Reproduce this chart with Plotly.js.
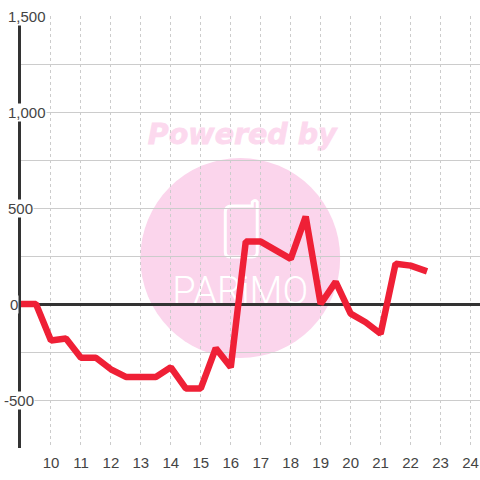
<!DOCTYPE html>
<html><head><meta charset="utf-8">
<script src="https://cdn.plot.ly/plotly-3.0.1.min.js"></script>
<style>html,body{margin:0;padding:0;background:#fff}
.js-line{stroke-linejoin:bevel !important}
</style></head>
<body><div id="c" style="width:480px;height:480px"></div>
<script>
const hours=[8.9,9.5,10,10.5,11,11.5,12,12.5,13,13.5,14,14.5,15,15.5,16,16.5,17,17.5,18,18.5,19,19.5,20,20.5,21,21.5,22,22.55];
const values=[0,0,-190,-180,-280,-280,-340,-380,-380,-380,-330,-440,-440,-230,-330,325,325,280,235,455,0,115,-50,-95,-155,210,200,170];
const xTicks=[10,11,12,13,14,15,16,17,18,19,20,21,22,23,24];
const yGrid=[-750,-500,-250,0,250,500,750,1000,1250,1500];
const yLabelVals=[1500,1000,500,0,-500];
const yLabelText=['1,500','1,000','500','0','-500'];
const yLabelLeft=[6,6,6,8,2];

const W=480,H=480,L=20.5,R=0,T=16,B=32;
const px=v=>(v-L)/(W-L-R), py=v=>1-(v-T)/(H-T-B);
const annotations=yLabelVals.map((v,i)=>({xref:'paper',yref:'y',x:px(yLabelLeft[i]),y:v,xanchor:'left',yanchor:'middle',
  text:yLabelText[i],showarrow:false,bgcolor:'#ffffff',borderpad:0,font:{family:'Liberation Sans',size:15,color:'#444'}}));
const shapes=[
 {type:'circle',layer:'below',xref:'paper',yref:'paper',x0:px(140),x1:px(340),y0:py(358),y1:py(158),fillcolor:'#fbd5ec',line:{width:0}},
 {type:'path',layer:'below',xref:'paper',yref:'paper',
  path:`M ${px(231)} ${py(206)} L ${px(252)} ${py(206)} L ${px(252)} ${py(202)} Q ${px(255)} ${py(199)} ${px(257)} ${py(202)} L ${px(257)} ${py(252)} Q ${px(257)} ${py(257)} ${px(252)} ${py(257)} L ${px(230)} ${py(257)} Q ${px(225)} ${py(257)} ${px(225)} ${py(252)} L ${px(225)} ${py(212)} Q ${px(225)} ${py(206)} ${px(231)} ${py(206)} Z`,
  line:{color:'#ffffff',width:3},fillcolor:'rgba(0,0,0,0)'},
 {type:'rect',layer:'below',xref:'paper',yref:'paper',x0:px(140),x1:px(344),y0:py(148),y1:py(116),line:{width:0},fillcolor:'rgba(0,0,0,0)',
  label:{text:'<b><i>Powered by</i></b>',textposition:'middle center',font:{family:'DejaVu Sans',size:28.5,color:'#fcd9ee'}}},
 {type:'rect',layer:'below',xref:'paper',yref:'paper',x0:px(160),x1:px(320),y0:py(304),y1:py(272),line:{width:0},fillcolor:'rgba(0,0,0,0)',
  label:{text:'PARiMO',textposition:'middle center',font:{family:'Roboto',size:38,weight:300,color:'#ffffff'}}}
];
Plotly.newPlot('c',[{x:hours,y:values,mode:'lines',type:'scatter',cliponaxis:false,line:{color:'#ef2036',width:6.5,shape:'linear'},hoverinfo:'skip'}],{
  width:W,height:H,margin:{l:L,r:R,t:T,b:B,pad:0},paper_bgcolor:'#ffffff',plot_bgcolor:'rgba(0,0,0,0)',showlegend:false,
  xaxis:{range:[9,9+(W-L-R)/30],tickvals:xTicks,ticktext:xTicks.map(String),showgrid:true,gridcolor:'#cccccc',griddash:'dot',gridwidth:1,zeroline:false,showline:false,ticks:'outside',ticklen:1,tickcolor:'rgba(0,0,0,0)',
    tickfont:{family:'Liberation Sans',size:15,color:'#444'},fixedrange:true},
  yaxis:{range:[-750,1500],tickvals:yGrid,showticklabels:false,showgrid:true,gridcolor:'#cccccc',gridwidth:1,zeroline:true,zerolinecolor:'#333333',zerolinewidth:3,showline:true,linecolor:'#333333',linewidth:3,ticks:'',fixedrange:true},
  annotations,shapes
},{displayModeBar:false,staticPlot:true}).then(()=>{
  document.querySelectorAll('.shapelayer text, .layer-below text').forEach(t=>{
    if(t.textContent.indexOf('Powered')>=0){t.style.stroke='#fcd9ee';t.style.strokeWidth='0.8px';}
  });
});
</script></body></html>
